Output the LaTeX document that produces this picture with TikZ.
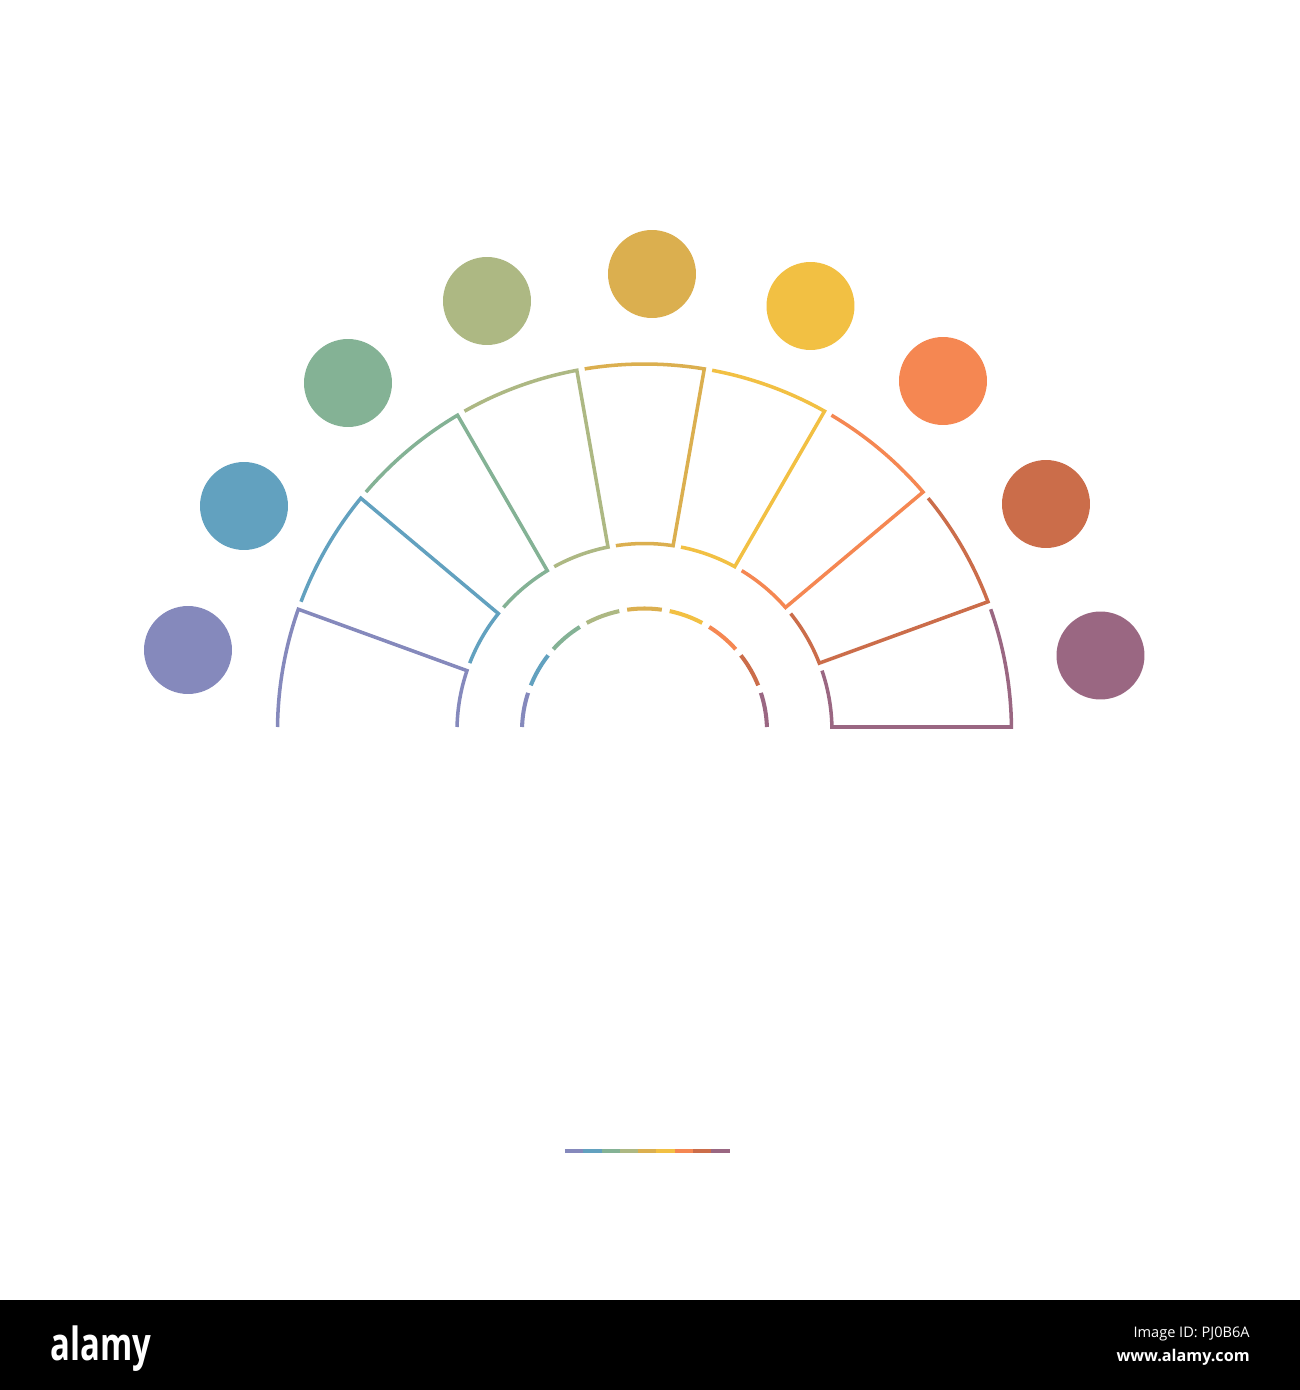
\documentclass[tikz,border=0pt]{standalone}
\usepackage{fontspec}
\setmainfont{Open Sans}
\usetikzlibrary{positioning,calc}

\definecolor{segA}{HTML}{8589BC}
\definecolor{segB}{HTML}{62A1BF}
\definecolor{segC}{HTML}{84B295}
\definecolor{segD}{HTML}{ADB883}
\definecolor{segE}{HTML}{DBAF4F}
\definecolor{segF}{HTML}{F2C043}
\definecolor{segG}{HTML}{F58752}
\definecolor{segH}{HTML}{CB6D4A}
\definecolor{segI}{HTML}{9A6782}

\begin{document}
\begin{tikzpicture}[x=0.02cm, y=0.02cm,
    dot/.style={circle, minimum size=1.76cm, inner sep=0pt},
    seg/.style={line width=2pt},
    ring/.style={line width=2.3pt}]
    % page, origin at the centre of the half ring
    \fill[white] (-644.5,-659) rectangle (655.5,731);

    % half ring of nine sectors, inner dashed arc
    \foreach \col [count=\k from 0] in {segA,segB,segC,segD,segE,segF,segG,segH,segI} {
        \pgfmathsetmacro\a{180-20*\k}
        \pgfmathsetmacro\b{160-20*\k}
        \draw[seg, \col] (\a-0.6245:367) arc[start angle=\a-0.6245, end angle=\b+0.6245, radius=367]
            -- (\b+1.222:187.5) arc[start angle=\b+1.222, end angle=\a-1.222, radius=187.5];
        \draw[ring, \col] (\a-1.871:122.5) arc[start angle=\a-1.871, end angle=\b+1.871, radius=122.5];
    }

    % circles round the ring
    \foreach \col/\x/\y [count=\n] in {segA/-456.5/81, segB/-400.5/225, segC/-296.5/348,
            segD/-157.5/430, segE/7.5/457, segF/166/425, segG/298.5/350, segH/401.5/227, segI/456/75.5}
        \node[dot, fill=\col] (c\n) at (\x,\y) {};

    % small bar
    \foreach \col [count=\k from 0] in {segA,segB,segC,segD,segE,segF,segG,segH,segI}
        \draw[\col, line width=2pt] (-79.5+18.3*\k,-420) -- ++(18.3,0);

    % footer
    \fill[black] (-644.5,-569) rectangle (655.5,-659);
    \node[anchor=base west, white, inner sep=0pt, xscale=0.72, font=\fontsize{26}{26}\selectfont\bfseries] (logo) at (-594.5,-629) {alamy};
    \node[anchor=base east, white, inner sep=0pt, font=\fontsize{8.3}{9}\selectfont] (imgid) at (605.5,-606) {Image ID: PJ0B6A};
    \node[anchor=base east, white, inner sep=0pt, font=\fontsize{9.2}{10}\selectfont\bfseries] (web) at (605.5,-630) {www.alamy.com};
\end{tikzpicture}
\end{document}
